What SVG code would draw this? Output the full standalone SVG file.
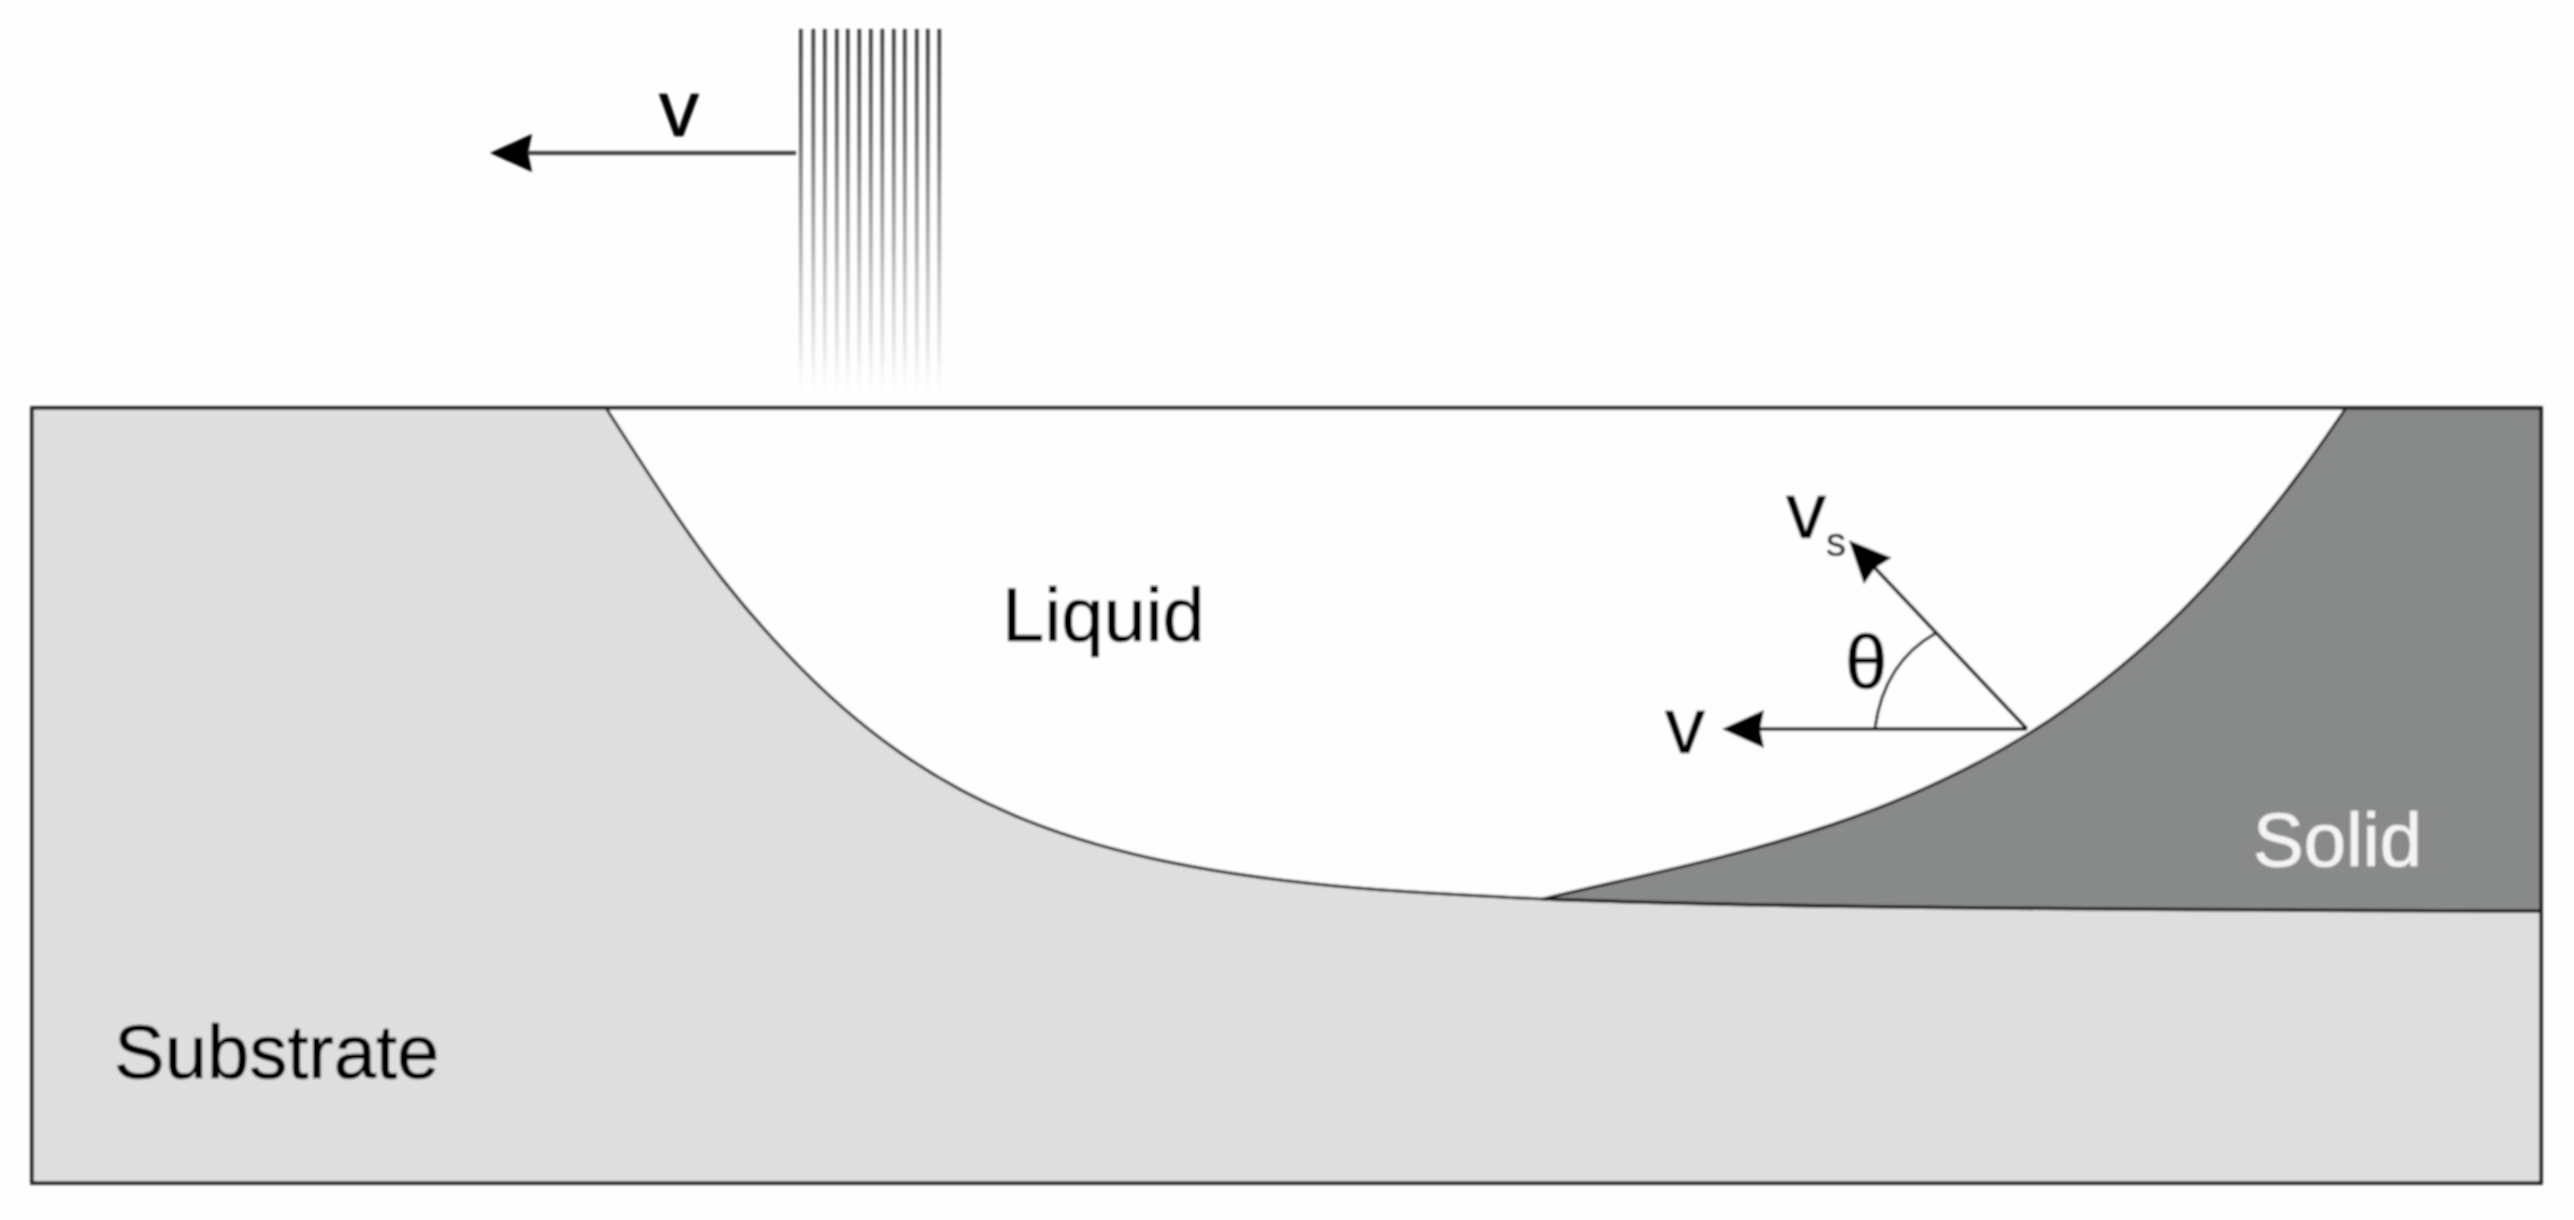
<svg xmlns="http://www.w3.org/2000/svg" width="2574" height="1220" viewBox="0 0 2574 1220">
  <style>
    .label { font-family: "Liberation Sans", Arial, sans-serif; font-size: 76px; fill: #000; stroke: #000; stroke-width: 0.7; }
    .speed { font-size: 80px; }
    .edge { fill: none; stroke: #1c1c1c; stroke-width: 3; }
    .shaft { fill: none; stroke: #111; stroke-width: 3.4; }
    .beam { fill: url(#fade); }
  </style>
  <defs>
    <linearGradient id="fade" gradientUnits="userSpaceOnUse" x1="0" y1="29" x2="0" y2="398">
      <stop offset="0" stop-color="#333" stop-opacity="0.95"/>
      <stop offset="0.3" stop-color="#555" stop-opacity="0.85"/>
      <stop offset="0.6" stop-color="#888" stop-opacity="0.65"/>
      <stop offset="0.85" stop-color="#bbb" stop-opacity="0.4"/>
      <stop offset="1" stop-color="#ddd" stop-opacity="0"/>
    </linearGradient>
    <marker id="head" markerUnits="userSpaceOnUse" markerWidth="44" markerHeight="40" refX="4" refY="19" orient="auto" overflow="visible">
      <path d="M0,0 L42,19 L0,38 L4,19 Z" fill="#000"/>
    </marker>
    <filter id="soft" x="-2%" y="-2%" width="104%" height="104%">
      <feGaussianBlur stdDeviation="0.9"/>
    </filter>
  </defs>
  <rect width="2574" height="1220" fill="#fefefe"/>
  <g filter="url(#soft)">
    <g id="substrate">
      <rect x="32" y="408" width="2509" height="775" fill="#dedede"/>
      <text class="label" x="114" y="1078">Substrate</text>
    </g>
    <g id="liquid">
      <path d="M606,408 C645,468.500 684,530 723,580 C745,608 768,634 790,657 C930,804 1077,857.700 1307,883 C1386,892 1464,895 1543,899 C1712,858.400 1881,831.500 2050,720 C2094,690 2139,654 2183,610 C2222,571 2261,525 2300,473 C2315,453 2331,430 2346,408 Z" fill="#fefefe"/>
      <path class="edge" d="M606,408 C645,468.500 684,530 723,580 C745,608 768,634 790,657 C930,804 1077,857.700 1307,883 C1386,892 1464,895 1543,899"/>
      <text class="label" x="1002" y="641">Liquid</text>
    </g>
    <g id="solid">
      <path d="M1543,899 C1712,858.400 1881,831.500 2050,720 C2094,690 2139,654 2183,610 C2222,571 2261,525 2300,473 C2315,453 2331,430 2346,408 L2541,408 L2541,911 C1900,909 1700,905 1543,899 Z" fill="#888a89"/>
      <path class="edge" d="M1543,899 C1712,858.400 1881,831.500 2050,720 C2094,690 2139,654 2183,610 C2222,571 2261,525 2300,473 C2315,453 2331,430 2346,408"/>
      <path class="edge" d="M1543,899 C1700,905 1900,909 2541,911" style="stroke-width:3.6"/>
      <text class="label" x="2253" y="866" style="fill:#f4f4f4;stroke:#f4f4f4">Solid</text>
    </g>
    <rect id="frame" x="32" y="408" width="2509" height="775" fill="none" stroke="#1c1c1c" stroke-width="3.6"/>
    <g id="beam">
      <rect class="beam" x="799" y="29" width="3.6" height="369"/>
      <rect class="beam" x="811.500" y="29" width="3.6" height="369"/>
      <rect class="beam" x="823" y="29" width="3.6" height="369"/>
      <rect class="beam" x="835" y="29" width="3.6" height="369"/>
      <rect class="beam" x="846" y="29" width="3.6" height="369"/>
      <rect class="beam" x="857.500" y="29" width="3.6" height="369"/>
      <rect class="beam" x="869" y="29" width="3.6" height="369"/>
      <rect class="beam" x="880.500" y="29" width="3.6" height="369"/>
      <rect class="beam" x="892" y="29" width="3.6" height="369"/>
      <rect class="beam" x="903" y="29" width="3.6" height="369"/>
      <rect class="beam" x="915" y="29" width="3.6" height="369"/>
      <rect class="beam" x="926" y="29" width="3.6" height="369"/>
      <rect class="beam" x="937.500" y="29" width="3.6" height="369"/>
    </g>
    <g id="connectors">
      <path class="shaft" d="M796,153 L528,153" marker-end="url(#head)" style="stroke:#444;stroke-width:4"/>
      <path class="shaft" d="M2027,729 L1760,729" marker-end="url(#head)"/>
      <path class="shaft" d="M2027,729 L1875,568" marker-end="url(#head)"/>
      <path class="shaft" d="M1875,728 Q1884,662 1936,633" style="stroke-width:3"/>
    </g>
    <g id="symbols">
      <text class="label speed" x="659" y="136">v</text>
      <text class="label speed" x="1665" y="753">v</text>
      <text class="label speed" x="1786" y="538">v</text>
      <text class="label" x="1826" y="556" style="font-size:40px;fill:#222;stroke:#222;stroke-width:0.4">s</text>
      <text class="label" x="1845" y="688">θ</text>
    </g>
  </g>
</svg>
